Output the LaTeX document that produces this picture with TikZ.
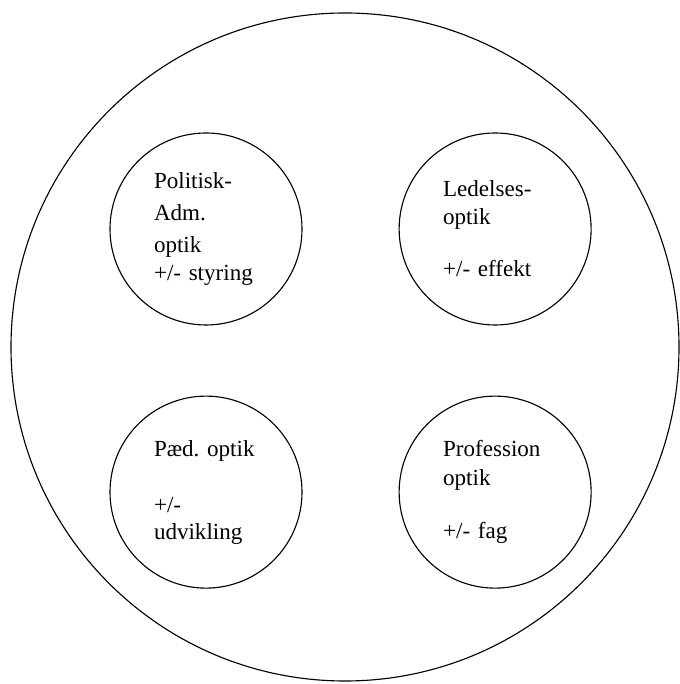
\documentclass[tikz,border=0pt]{standalone}
\usepackage{fontspec}
\setmainfont{Liberation Serif}
\usetikzlibrary{positioning}

\begin{document}
\begin{tikzpicture}[
  font=\fontsize{16.4}{20}\selectfont,
  outer/.style={circle, draw=black, line width=0.8pt, minimum size=16.7cm, inner sep=0pt},
  optik/.style={circle, draw=black, line width=0.8pt, minimum size=4.8cm, inner sep=0pt,
                text width=2.6cm, align=left}
]
\useasboundingbox (0,0) rectangle (16.975,17.1);
\node[outer] (hel) at (8.625,8.425) {};
\node[optik] (pol) at (5.15,11.375) {Politisk-\\[2.5pt] Adm.\\[3pt] optik\\[-0.5pt] +/-~styring};
\node[optik, right=2.4cm of pol] (led) {Ledelses-\\ optik\\[17pt] +/-~effekt};
\node[optik, below=1.75cm of pol] (paed) {Pæd.~optik\\[20pt] +/-\\[-1pt] udvikling};
\node[optik, below=1.75cm of led] (prof) {Profession\\ optik\\[18pt] +/-~fag};
\end{tikzpicture}
\end{document}
